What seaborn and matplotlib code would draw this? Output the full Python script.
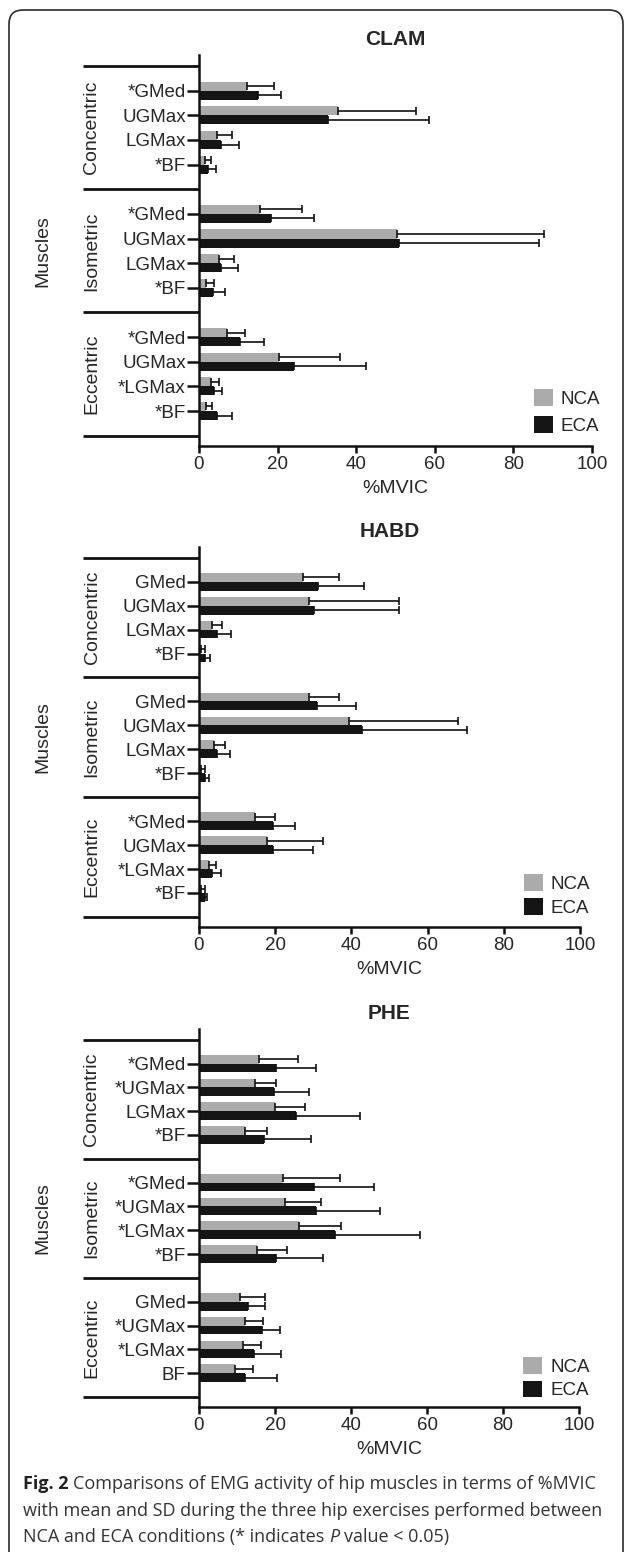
import numpy as np
import pandas as pd
import matplotlib
matplotlib.use("Agg")
import matplotlib.pyplot as plt
import seaborn as sns
from matplotlib.patches import FancyBboxPatch
from matplotlib.container import BarContainer

# ---------------- data ----------------
exercises = ["CLAM", "HABD", "PHE"]
contractions = ["Concentric", "Isometric", "Eccentric"]
conditions = ["NCA", "ECA"]

clam_labels = ["*GMed", "UGMax", "LGMax", "*BF",
               "*GMed", "UGMax", "LGMax", "*BF",
               "*GMed", "UGMax", "*LGMax", "*BF"]
habd_labels = ["GMed", "UGMax", "LGMax", "*BF",
               "GMed", "UGMax", "LGMax", "*BF",
               "*GMed", "UGMax", "*LGMax", "*BF"]
phe_labels = ["*GMed", "*UGMax", "LGMax", "*BF",
              "*GMed", "*UGMax", "*LGMax", "*BF",
              "GMed", "*UGMax", "*LGMax", "BF"]

clam_nca_mean = [12.1, 35.3, 4.7, 1.6, 15.6, 50.3, 5.0, 1.9, 7.1, 20.3, 3.0, 1.7]
clam_nca_sd = [7.0, 19.8, 3.6, 1.4, 10.6, 37.5, 4.0, 1.8, 4.7, 15.7, 2.1, 1.5]
clam_eca_mean = [14.9, 32.9, 5.7, 2.3, 18.3, 51.0, 5.6, 3.5, 10.4, 24.1, 3.9, 4.6]
clam_eca_sd = [6.0, 25.6, 4.4, 2.1, 10.9, 35.5, 4.4, 3.2, 6.1, 18.5, 1.9, 3.9]

habd_nca_mean = [27.4, 28.9, 3.5, 0.6, 28.9, 39.5, 4.0, 0.6, 14.7, 17.8, 2.6, 0.6]
habd_nca_sd = [9.4, 23.5, 2.6, 1.1, 7.9, 28.5, 2.8, 1.0, 5.2, 14.8, 1.9, 1.0]
habd_eca_mean = [31.3, 30.2, 4.6, 1.7, 31.1, 42.8, 4.8, 1.6, 19.3, 19.5, 3.5, 1.7]
habd_eca_sd = [12.0, 22.2, 3.9, 1.3, 10.1, 27.5, 3.4, 1.0, 6.0, 10.5, 2.3, 0.4]

phe_nca_mean = [15.8, 14.7, 19.9, 12.1, 22.0, 22.7, 26.4, 15.2, 10.8, 12.2, 11.7, 9.5]
phe_nca_sd = [10.3, 5.6, 8.1, 5.8, 15.2, 9.4, 11.0, 8.0, 6.6, 4.6, 4.5, 4.6]
phe_eca_mean = [20.2, 19.7, 25.6, 17.2, 30.2, 30.9, 35.9, 20.3, 12.8, 16.5, 14.5, 12.2]
phe_eca_sd = [10.6, 9.2, 16.8, 12.3, 15.9, 16.6, 22.3, 12.2, 4.6, 4.7, 7.2, 8.2]

x_ticks = [0, 20, 40, 60, 80, 100]
x_label = "%MVIC"
y_label = "Muscles"

panels = [
    (clam_labels, clam_nca_mean, clam_nca_sd, clam_eca_mean, clam_eca_sd),
    (habd_labels, habd_nca_mean, habd_nca_sd, habd_eca_mean, habd_eca_sd),
    (phe_labels, phe_nca_mean, phe_nca_sd, phe_eca_mean, phe_eca_sd),
]

# ---------------- layout (pixels) ----------------
W, H = 627, 1552
axes_px = [(199, 55, 592, 446), (199, 547, 580, 927), (199, 1029, 579, 1407)]
legend_px = [(534, 389, 0.46), (524, 874, 0.30), (523, 1357, 0.26)]
sep_left_px = 83
group_label_px = 92
muscles_px = 43
FS = 13.5
FS_LAB = 14
FS_TITLE = 15

NCA_COLOR = "#ababab"
ECA_COLOR = "#151515"
LINE = "#111111"

sns.set_style("ticks")
plt.rcParams["font.family"] = ["Liberation Sans", "DejaVu Sans"]

fig = plt.figure(figsize=(W / 100, H / 100), dpi=100)
bg = fig.add_axes([0, 0, 1, 1], zorder=-5)
bg.set_xlim(0, W)
bg.set_ylim(H, 0)
bg.axis("off")
bg.add_patch(FancyBboxPatch((9, 10), 614, 1650,
                            boxstyle="round,pad=0,rounding_size=14",
                            fill=False, lw=1.2, ec="#2a2a2a"))

for k, (name, data) in enumerate(zip(exercises, panels)):
    labels, nm, ns, em, es = data
    x0, y0, x1, y1 = axes_px[k]
    ax = fig.add_axes([x0 / W, 1 - y1 / H, (x1 - x0) / W, (y1 - y0) / H])

    positions = [(i // 4) * 5 + (i % 4) + 1 for i in range(len(labels))]
    df = pd.DataFrame({
        "pos": positions * 2,
        "value": list(nm) + list(em),
        "sd": list(ns) + list(es),
        "cond": ["NCA"] * len(nm) + ["ECA"] * len(em),
    })
    sns.barplot(data=df, x="value", y="pos", hue="cond", hue_order=conditions,
                orient="h", native_scale=True, width=0.74, saturation=1,
                palette={"NCA": NCA_COLOR, "ECA": ECA_COLOR},
                errorbar=None, linewidth=0, ax=ax)

    # error bars (one-sided, +SD) placed at the drawn bars
    sd_lookup = {(p, c): s for p, c, s in zip(df["pos"], df["cond"], df["sd"])}
    ex, ey, esd = [], [], []
    for cont in ax.containers:
        if not isinstance(cont, BarContainer):
            continue
        for patch in cont.patches:
            cy = patch.get_y() + patch.get_height() / 2
            p = int(round(cy))
            cond = "NCA" if cy < p else "ECA"
            if (p, cond) not in sd_lookup:
                continue
            ex.append(patch.get_width())
            ey.append(cy)
            esd.append(sd_lookup[(p, cond)])
    ax.errorbar(ex, ey, xerr=[np.zeros(len(esd)), esd], fmt="none",
                ecolor=LINE, elinewidth=1.2, capsize=2.6, capthick=1.2, zorder=3)

    ax.set_xlim(0, 100)
    ax.set_ylim(15.42, -0.45)
    ax.set_xticks(x_ticks)
    ax.set_xticklabels([str(t) for t in x_ticks])
    ax.set_yticks(positions)
    ax.set_yticklabels(labels)
    ax.tick_params(axis="y", length=8.5, width=1.8, pad=1.0, labelsize=FS, color=LINE)
    ax.tick_params(axis="x", length=5, width=1.8, pad=2.5, labelsize=FS, color=LINE)
    for s in ["top", "right"]:
        ax.spines[s].set_visible(False)
    for s in ["left", "bottom"]:
        ax.spines[s].set_linewidth(1.8)
        ax.spines[s].set_color(LINE)
    ax.set_ylabel("")
    ax.set_xlabel(x_label, fontsize=FS_LAB, labelpad=4.5)
    ax.set_title(name, fontsize=FS_TITLE, fontweight="bold", pad=7.5)

    tr = ax.get_yaxis_transform()
    fx = lambda px: (px - x0) / (x1 - x0)
    for g in range(4):
        ax.plot([fx(sep_left_px), 0], [g * 5, g * 5], transform=tr, clip_on=False,
                color=LINE, lw=2.0, solid_capstyle="butt")
    for g, cname in enumerate(contractions):
        ax.text(fx(group_label_px), g * 5 + 2.5, cname, transform=tr, rotation=90,
                ha="center", va="center", fontsize=FS_LAB)
    ax.text(fx(muscles_px), 7.5, y_label, transform=tr, rotation=90,
            ha="center", va="center", fontsize=FS_LAB)

    lx, ly, lsp = legend_px[k]
    sns.move_legend(ax, loc="upper left", bbox_to_anchor=(lx, ly),
                    bbox_transform=bg.transData, frameon=False, title=None,
                    fontsize=FS, handlelength=1.02, handleheight=0.98,
                    handletextpad=0.42, labelspacing=lsp, borderpad=0,
                    borderaxespad=0)

# ---------------- caption ----------------
renderer = fig.canvas.get_renderer()
cap_font = ["Open Sans", "DejaVu Sans"]
cap_size = 13.0


def text_width(s, **kw):
    t = bg.text(0, 0, s, fontsize=cap_size, family=cap_font, **kw)
    w = t.get_window_extent(renderer=renderer).width
    t.remove()
    return w


space_w = text_width("a a") - text_width("aa")


def draw_runs(x, y, runs):
    for s, kw in runs:
        props = {"color": "#333333"}
        props.update(kw)
        t = bg.text(x, y, s, fontsize=cap_size, family=cap_font,
                    va="baseline", ha="left", **props)
        x += t.get_window_extent(renderer=renderer).width + space_w


cap_x = 23
draw_runs(cap_x, 1489, [("Fig. 2", {"fontweight": "bold", "color": "#222222"}),
                        ("Comparisons of EMG activity of hip muscles in terms of %MVIC", {})])
draw_runs(cap_x, 1515.5, [("with mean and SD during the three hip exercises performed between", {})])
draw_runs(cap_x, 1542, [("NCA and ECA conditions (* indicates", {}),
                        ("P", {"fontstyle": "italic"}),
                        ("value < 0.05)", {})])

fig.savefig("out.png", dpi=100)
